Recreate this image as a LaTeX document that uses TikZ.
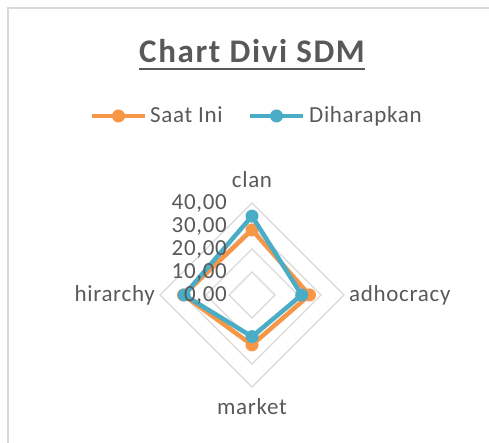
\documentclass[tikz,border=0pt]{standalone}
\usepackage{fontspec}
\setmainfont{Carlito}
\usetikzlibrary{calc}
\definecolor{saatini}{HTML}{F79646}
\definecolor{harapan}{HTML}{4BACC6}
\definecolor{labelgray}{HTML}{595959}
\definecolor{gridgray}{HTML}{D9D9D9}
\tikzset{
  gridline/.style   = {draw=gridgray, line width=1.3pt},
  series/.style     = {line width=4.5pt, line join=round},
  dot/.style        = {circle, fill, inner sep=0pt, minimum size=13pt},
  axislabel/.style  = {text=labelgray, inner sep=0pt,
                       font=\fontsize{23}{27}\selectfont\addfontfeature{LetterSpace=3}},
  ticklabel/.style  = {axislabel, anchor=base east},
  legendtext/.style = {axislabel, anchor=base west}
}
% pixels per data unit on the radar axes
\newcommand{\unitlen}{2.3}

\begin{document}
\begin{tikzpicture}[x=1pt,y=1pt]
  \useasboundingbox (-252,-148) rectangle (237,295);
  % chart frame, only top and left edges show
  \coordinate (frame-bl) at (-244,-148);
  \coordinate (frame-tl) at (-244,287);
  \coordinate (frame-tr) at (237,287);
  \draw[gridline] (frame-bl) -- (frame-tl) -- (frame-tr);

  % title with its underline
  \node[axislabel, anchor=base,
        font=\bfseries\fontsize{33}{38}\selectfont\addfontfeature{LetterSpace=5}]
    (title) at (0,232) {Chart Divi SDM};
  \draw[labelgray, line width=2pt]
    ($(title.base west)+(0,-6)$) -- ($(title.base east)+(0,-6)$);

  % legend
  \coordinate (keyA-l) at (-160,179);
  \coordinate (keyA-r) at (-107,179);
  \coordinate (keyB-l) at (-2,179);
  \coordinate (keyB-r) at (51,179);
  \draw[saatini, line width=4pt] (keyA-l) -- (keyA-r);
  \node[dot, saatini] (keyA) at ($(keyA-l)!0.5!(keyA-r)$) {};
  \node[legendtext] (keyA-text) at (-102,172) {Saat Ini};
  \draw[harapan, line width=4pt] (keyB-l) -- (keyB-r);
  \node[dot, harapan] (keyB) at ($(keyB-l)!0.5!(keyB-r)$) {};
  \node[legendtext] (keyB-text) at (57,172) {Diharapkan};

  % radar grid: 10, 20, 30, 40
  \coordinate (ctr) at (0,0);
  \foreach \k in {1,...,4} {
    \draw[gridline] (0,\k*23) -- (\k*23,0) -- (0,-\k*23) -- (-\k*23,0) -- cycle;
  }

  % axis names
  \node[axislabel, anchor=base]      (clan)      at (0,107)   {clan};
  \node[axislabel, anchor=base west] (adhocracy) at (97,-7)   {adhocracy};
  \node[axislabel, anchor=base]      (market)    at (0,-120)  {market};
  \node[axislabel, anchor=base east] (hirarchy)  at (-97,-7)  {hirarchy};

  % data points: clan / adhocracy / market / hirarchy
  \foreach \s/\c/\a/\m/\h in {sa/28.3/25.0/21.7/29.8, dh/34.3/21.6/18.1/29.5} {
    \coordinate (\s-1) at (0,\c*\unitlen);
    \coordinate (\s-2) at (\a*\unitlen,0);
    \coordinate (\s-3) at (0,-\m*\unitlen);
    \coordinate (\s-4) at (-\h*\unitlen,0);
  }
  \draw[series, saatini] (sa-1) -- (sa-2) -- (sa-3) -- (sa-4) -- cycle;
  \foreach \i in {1,...,4}
    \node[dot, saatini] (sa-dot\i) at (sa-\i) {};
  \draw[series, harapan] (dh-1) -- (dh-2) -- (dh-3) -- (dh-4) -- cycle;
  \foreach \i in {1,...,4}
    \node[dot, harapan] (dh-dot\i) at (dh-\i) {};

  % value labels sit on top of the series
  \foreach \k/\t in {0/{0,00}, 1/{10,00}, 2/{20,00}, 3/{30,00}, 4/{40,00}}
    \node[ticklabel] (tick\k) at (-25,\k*23-7) {\t};
\end{tikzpicture}
\end{document}
